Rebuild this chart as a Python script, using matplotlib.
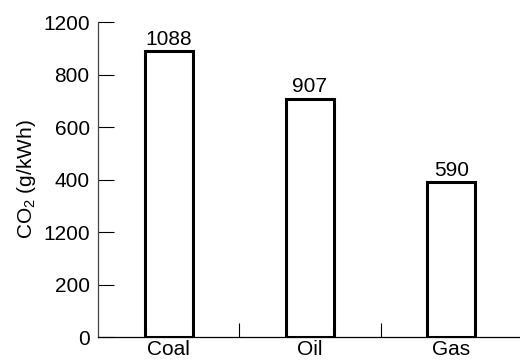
import matplotlib
matplotlib.use("Agg")
import matplotlib.pyplot as plt

# data
fuels = ["Coal", "Oil", "Gas"]
co2 = [1088, 907, 590]
ytick_values = [0, 200, 400, 600, 800, 1000, 1200]
ytick_labels = ["0", "200", "1200", "400", "600", "800", "1200"]


def main():
    plt.rcParams["font.family"] = ["Liberation Sans", "DejaVu Sans"]
    plt.rcParams["mathtext.default"] = "regular"

    fig = plt.figure(figsize=(5.2, 3.62), dpi=100)
    ax = fig.add_axes([0.1885, 0.069, 0.815, 0.87])

    x = list(range(len(fuels)))
    ax.bar(x, co2, width=0.34, facecolor="white", edgecolor="black", linewidth=2.2)
    for xi, v in zip(x, co2):
        ax.text(xi, v + 10, str(v), ha="center", va="bottom", fontsize=15)

    ax.set_xlim(-0.5, 2.5)
    ax.set_ylim(0, 1200)

    ax.set_xticks(x)
    ax.set_xticklabels(fuels, fontsize=15)
    ax.set_xticks([0.5, 1.5], minor=True)
    ax.tick_params(axis="x", which="major", length=0, pad=2)
    ax.tick_params(axis="x", which="minor", direction="in", length=10, width=0.8)

    ax.set_yticks(ytick_values)
    ax.set_yticklabels(ytick_labels, fontsize=15)
    ax.tick_params(axis="y", direction="in", length=11.5, width=0.8, pad=6)

    ax.set_ylabel("CO$_2$ (g/kWh)", fontsize=15, labelpad=4)

    for side in ["top", "right"]:
        ax.spines[side].set_visible(False)
    ax.spines["left"].set_color("#444444")
    ax.spines["left"].set_linewidth(0.9)
    ax.spines["bottom"].set_linewidth(0.9)

    fig.savefig("out.png", dpi=100)


if __name__ == "__main__":
    main()
